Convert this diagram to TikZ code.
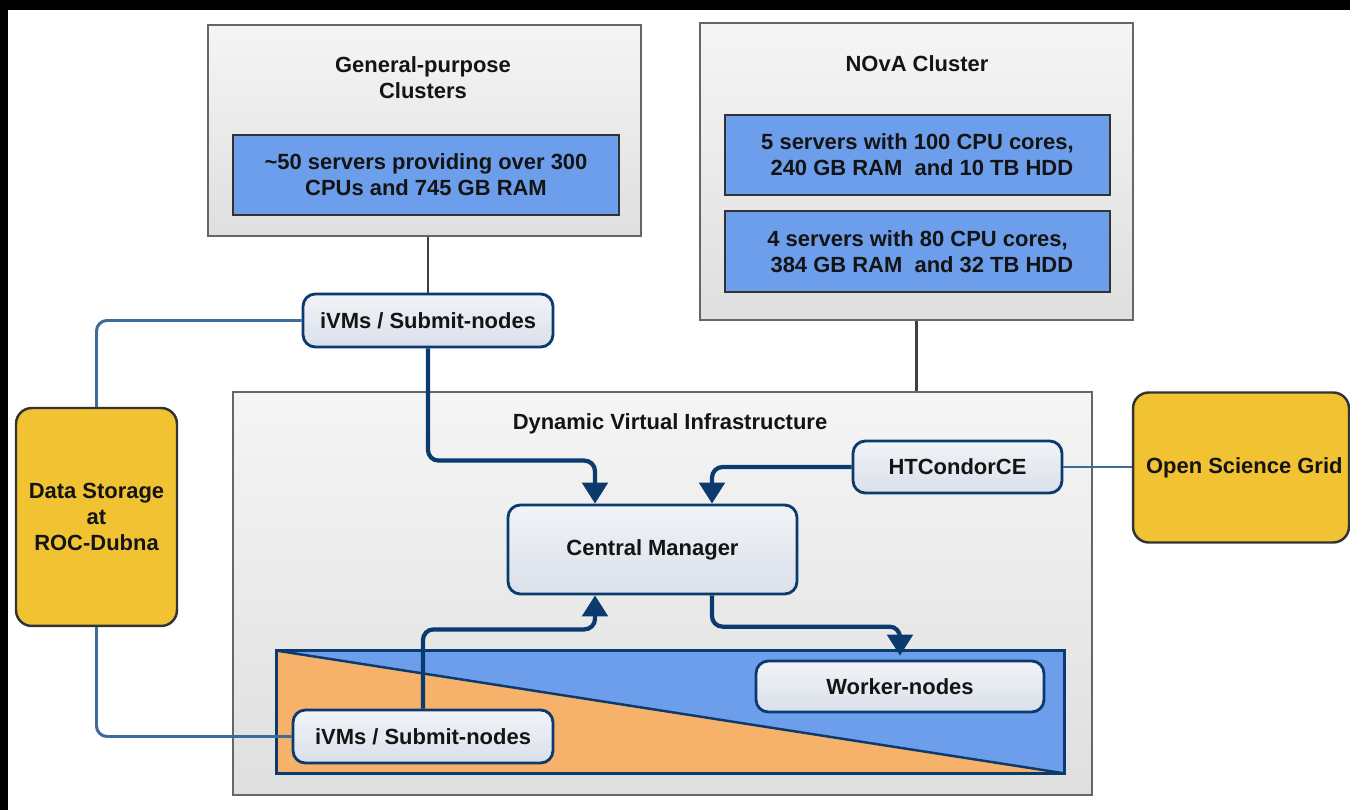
\documentclass[tikz,border=0pt]{standalone}
\usepackage{fontspec}
\setmainfont{Liberation Sans}
\usetikzlibrary{arrows.meta,calc}
\definecolor{dkblue}{HTML}{0B3A6E}
\definecolor{lnblue}{HTML}{3D6B9C}
\definecolor{cblue}{HTML}{6D9EEB}
\definecolor{corange}{HTML}{F6B26B}
\definecolor{cyellow}{HTML}{F1C232}
\definecolor{bordergray}{HTML}{666666}
\definecolor{gtop}{HTML}{F5F5F5}
\definecolor{gbot}{HTML}{DFDFDF}
\definecolor{vtop}{HTML}{F1F3F7}
\definecolor{vbot}{HTML}{DAE0EA}
\definecolor{txtc}{HTML}{141414}
\tikzset{
  txt/.style={font=\bfseries\fontsize{12.5pt}{14.8pt}\selectfont, text=txtc, align=center, inner sep=0pt},
  graybox/.style={draw=bordergray, line width=1.2pt, top color=gtop, bottom color=gbot, inner sep=0pt},
  bluebox/.style={txt, draw=black!80, line width=1pt, fill=cblue},
  vnode/.style={txt, draw=dkblue, line width=1.6pt, rounded corners=7pt, top color=vtop, bottom color=vbot},
  ybox/.style={txt, draw=black!80, line width=1.4pt, rounded corners=9pt, fill=cyellow},
  gline/.style={draw=black!75, line width=1.5pt},
  tline/.style={draw=lnblue, line width=1.7pt, rounded corners=6pt},
  conn/.style={draw=dkblue, line width=2.4pt, rounded corners=6pt},
  arr/.style={-{Triangle[width=14.5pt,length=12pt]}}
}
\begin{document}
\begin{tikzpicture}[x=0.02cm, y=-0.02cm]
\useasboundingbox (0,0) rectangle (1350,810);
\fill[white] (0,0) rectangle (1350,810);
\fill[black] (0,0) rectangle (1350,10);
\fill[black] (0,0) rectangle (8,810);

% containers
\node[graybox, minimum width=8.66cm, minimum height=4.22cm] (gp) at (424.5,130.5) {};
\node[txt] (gptitle) at (423,78) {General-purpose\\Clusters};
\node[bluebox, minimum width=7.72cm, minimum height=1.6cm] (gpin) at (426,175) {{\char"7E}50 servers providing over 300\\CPUs and 745 GB RAM};

\node[graybox, minimum width=8.66cm, minimum height=5.94cm] (nova) at (916.5,171.5) {};
\node[txt] (novatitle) at (917,64) {NOvA Cluster};
\node[bluebox, minimum width=7.7cm, minimum height=1.6cm] (nova1) at (917.5,155) {5 servers with 100 CPU cores,\\\hspace*{0.4em}240 GB RAM\ \ and 10 TB HDD};
\node[bluebox, minimum width=7.7cm, minimum height=1.62cm] (nova2) at (917.5,251.5) {4 servers with 80 CPU cores,\\\hspace*{0.4em}384 GB RAM\ \ and 32 TB HDD};

\node[graybox, minimum width=17.18cm, minimum height=8.06cm] (dvi) at (662.5,593.5) {};
\node[txt] (dvititle) at (670,424) {Dynamic Virtual Infrastructure};

\node[minimum width=15.74cm, minimum height=2.44cm, inner sep=0pt] (pool) at (670.5,712) {};
\fill[cblue] (pool.north west) -- (pool.north east) -- (pool.south east) -- cycle;
\fill[corange] (pool.north west) -- (pool.south east) -- (pool.south west) -- cycle;
\draw[dkblue, line width=1.4pt] (pool.north west) -- (pool.south east);
\draw[dkblue, line width=1.6pt] (pool.north west) rectangle (pool.south east);

% nodes
\node[vnode, minimum width=5cm, minimum height=1.06cm] (ivm1) at (428,320.5) {iVMs / Submit-nodes};
\node[vnode, minimum width=5.78cm, minimum height=1.78cm] (cm) at (652.5,549.5) {Central Manager};
\node[vnode, minimum width=4.18cm, minimum height=1.04cm] (ce) at (957.5,467) {HTCondorCE};
\node[vnode, minimum width=5.2cm, minimum height=1.06cm] (ivm2) at (423,736.5) {iVMs / Submit-nodes};
\node[vnode, minimum width=5.76cm, minimum height=1.02cm] (wn) at (900,686.5) {Worker-nodes};

\node[ybox, minimum width=4.32cm, minimum height=3.0cm] (osg) at (1241,467.5) {\hspace*{0.3em}Open Science Grid};
\node[ybox, minimum width=3.22cm, minimum height=4.36cm] (ds) at (96.5,517) {Data Storage\\at\\ROC-Dubna};

% connectors
\coordinate (cmA) at ($(cm.north)+(-57.5,0)$);
\coordinate (cmB) at ($(cm.north)+(59.5,0)$);
\coordinate (cmC) at ($(cm.south)+(-57.5,0)$);
\coordinate (cmD) at ($(cm.south)+(59.5,0)$);
\coordinate (poolA) at (pool.north -| wn.north);

\draw[gline] (gp.south -| ivm1.north) -- (ivm1.north);
\draw[gline] (nova.south) -- (nova.south |- dvi.north);
\draw[tline] (ivm1.west) -| (ds.north);
\draw[tline] (ds.south) |- (ivm2.west);
\draw[tline] (ce.east) -- (ce.east -| osg.west);

\draw[conn,arr] (ivm1.south) |- ($(cmA)+(0,-43)$) -- (cmA);
\draw[conn,arr] (ce.west) -| (cmB);
\draw[conn,arr] (ivm2.north) |- ($(cmC)+(0,34)$) -- (cmC);
\draw[conn,arr] (cmD) |- ($(poolA)+(0,-24)$) -- ($(poolA)+(0,5)$);
\end{tikzpicture}
\end{document}
